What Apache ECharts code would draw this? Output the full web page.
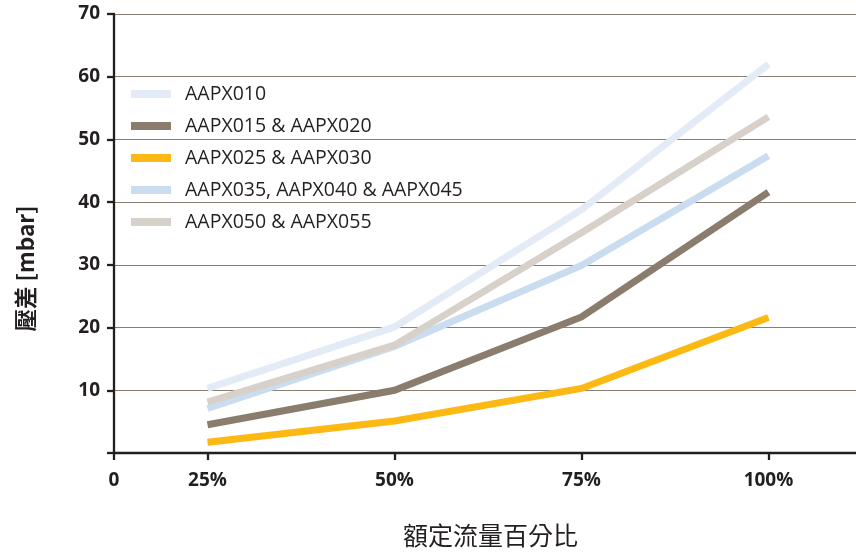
<!DOCTYPE html>
<html><head><meta charset="utf-8">
<script src="https://cdn.jsdelivr.net/npm/echarts@6/dist/echarts.min.js"></script>
<style>html,body{margin:0;padding:0;background:#fff}#c{width:856px;height:553px}</style>
</head><body><div id="c"></div>
<script>
var categories = ['25%', '50%', '75%', '100%'];
var originLabel = '0';
var seriesNames = ['AAPX010', 'AAPX015 & AAPX020', 'AAPX025 & AAPX030', 'AAPX035, AAPX040 & AAPX045', 'AAPX050 & AAPX055'];
var aapx010 = [10.3, 20.1, 38.8, 62.0];
var aapx015_020 = [4.5, 10.0, 21.7, 41.6];
var aapx025_030 = [1.7, 5.1, 10.3, 21.6];
var aapx035_045 = [7.1, 17.0, 29.9, 47.4];
var aapx050_055 = [8.1, 17.2, 35.1, 53.6];
var yTicks = [0, 10, 20, 30, 40, 50, 60, 70];
var yAxisName = '壓差 [mbar]';
var xAxisName = '額定流量百分比';

var colors = ['#e3ebf6', '#8a7d6e', '#fdb913', '#c9dcf0', '#d8d1ca'];
var allData = [aapx010, aapx015_020, aapx025_030, aapx035_045, aapx050_055];
var xPos = categories.map(function (c, i) { return i + 1; });

var chart = echarts.init(document.getElementById('c'), null, {renderer: 'canvas'});
var font = '"Open Sans", "Noto Sans", sans-serif';
var dark = '#231f20';
chart.setOption({
  animation: false,
  backgroundColor: '#fff',
  grid: {left: 114, right: 0, top: 14, bottom: 99, containLabel: false},
  legend: {
    orient: 'vertical', left: 131, top: 84, itemGap: 12, padding: 0,
    itemWidth: 40, itemHeight: 8, icon: 'rect',
    textStyle: {fontFamily: font, fontSize: 19.5, color: dark, padding: [0, 0, 0, 9]},
    data: seriesNames
  },
  xAxis: {
    type: 'value', min: 0.5, max: 4.468,
    name: xAxisName, nameLocation: 'middle', nameGap: 70,
    nameTextStyle: {fontFamily: '"Noto Sans CJK TC", sans-serif', fontSize: 25, color: dark, padding: [0, 0, 0, 11]},
    axisLine: {show: true, lineStyle: {color: dark, width: 2.3}},
    axisTick: {show: true, length: 7, lineStyle: {color: dark, width: 2.3}, customValues: [0.5].concat(xPos)},
    axisLabel: {
      customValues: [0.5].concat(xPos), margin: 18,
      fontFamily: font, fontWeight: 'bold', fontSize: 19, color: dark,
      formatter: function (v) { return v === 0.5 ? originLabel : categories[Math.round(v) - 1]; }
    },
    splitLine: {show: false}
  },
  yAxis: {
    type: 'value', min: 0, max: 70, interval: 10,
    name: yAxisName, nameLocation: 'middle', nameGap: 77, nameRotate: 90,
    nameTextStyle: {fontFamily: '"Noto Sans CJK TC", sans-serif', fontWeight: 'bold', fontSize: 22.5, color: dark, padding: [0, 70, 0, 0]},
    axisLine: {show: true, lineStyle: {color: dark, width: 2.3}},
    axisTick: {show: true, length: 7, lineStyle: {color: dark, width: 2.3}},
    axisLabel: {
      margin: 14, fontFamily: font, fontWeight: 'bold', fontSize: 19, color: dark,
      formatter: function (v) { return yTicks.indexOf(v) >= 0 && v !== 0 ? String(v) : ''; }
    },
    splitLine: {show: true, lineStyle: {color: '#8a7f72', width: 1}}
  },
  series: seriesNames.map(function (n, k) {
    return {
      name: n, type: 'line', showSymbol: false, symbol: 'none',
      color: colors[k],
      lineStyle: {color: colors[k], width: 7, cap: 'butt', join: 'miter'},
      itemStyle: {color: colors[k]},
      data: allData[k].map(function (v, i) { return [xPos[i], v]; })
    };
  })
});
</script>
</body></html>
